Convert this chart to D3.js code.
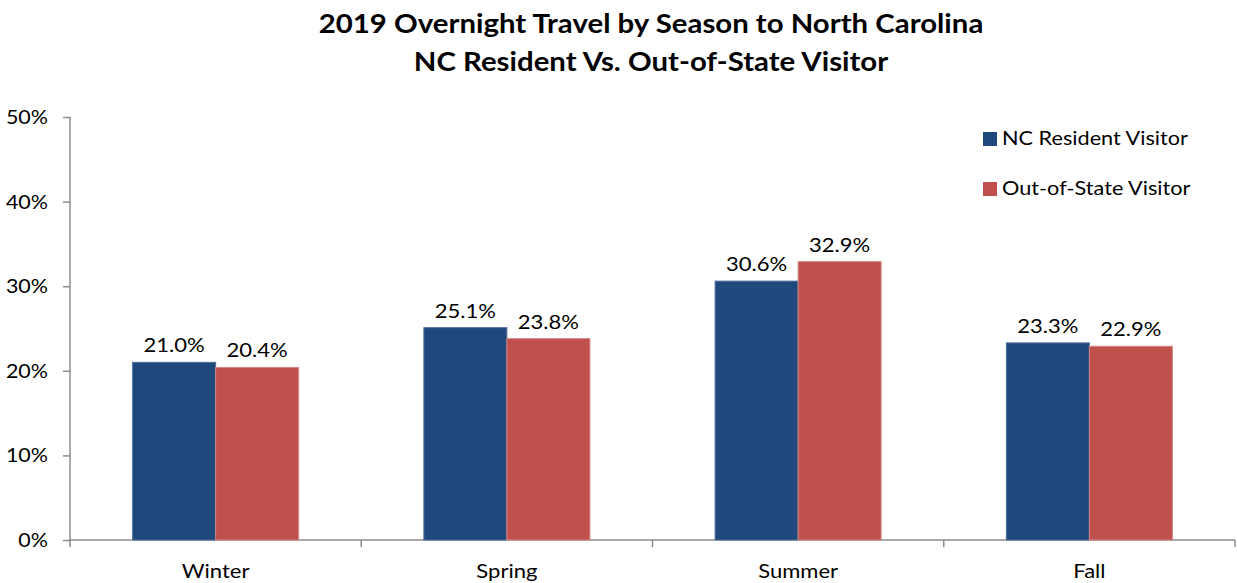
<!DOCTYPE html>
<html><head><meta charset="utf-8">
<script src="https://cdn.jsdelivr.net/npm/d3@7"></script>
<style>body{margin:0;background:#fff}svg{display:block;font-family:Lato,"Open Sans",sans-serif}</style>
</head><body><svg id="c" width="1237" height="583"></svg>
<script>
const categories = ["Winter","Spring","Summer","Fall"];
const seriesNames = ["NC Resident Visitor","Out-of-State Visitor"];
const ncResident = [21.0, 25.1, 30.6, 23.3];
const outOfState = [20.4, 23.8, 32.9, 22.9];
const yTicks = [0,10,20,30,40,50];
const titleLines = ["2019 Overnight Travel by Season to North Carolina","NC Resident Vs. Out-of-State Visitor"];
const colors = ["#1F497D","#C0504D"];
const strokes = ["#4F6F9A","#D48583"];

(function(){
const SX = 1.13;
const svg = d3.select("#c");
const mLeft = 70, mRight = 1235, mTop = 117, mBottom = 540;
const x0 = d3.scaleBand().domain(categories).range([mLeft,mRight]).paddingInner(0.43).paddingOuter(0.215);
const x1 = d3.scaleBand().domain(seriesNames).range([0,x0.bandwidth()]);
const y = d3.scaleLinear().domain([0,50]).range([mBottom,mTop]);

function txt(parent, x, yy, s, size, anchor, bold){
  return parent.append("text").attr("transform",`translate(${x},${yy}) scale(${SX},1)`)
    .attr("text-anchor",anchor).attr("font-size",size).attr("font-weight",bold?"bold":"normal")
    .attr("fill","#000").text(s);
}

// title
const t = svg.append("g");
titleLines.forEach((s,i)=> txt(t, 651, 33+i*38, s, 26, "middle", true));

// y axis
const ya = svg.append("g").attr("transform",`translate(${mLeft},0)`)
  .call(d3.axisLeft(y).tickValues(yTicks).tickSize(7).tickFormat(()=>""));
ya.select(".domain").attr("stroke","#8c8c8c").attr("stroke-width",1.5).attr("d",`M0,${mTop}V${mBottom}`);
ya.selectAll(".tick line").attr("stroke","#8c8c8c").attr("stroke-width",1.5);
ya.selectAll(".tick text").remove();
yTicks.forEach(v=> txt(svg, 48, y(v)+7, v+"%", 19, "end", false));

// x axis
const boundaries = categories.map(c=>x0(c)-x0.step()*x0.paddingInner()/2).concat([mRight]);
boundaries[0] = mLeft;
const xa = svg.append("g").attr("transform",`translate(0,${mBottom})`);
xa.append("line").attr("x1",mLeft).attr("x2",mRight).attr("stroke","#8c8c8c").attr("stroke-width",1.5);
xa.selectAll("line.tk").data(boundaries).join("line").attr("class","tk")
  .attr("x1",d=>d).attr("x2",d=>d).attr("y1",0).attr("y2",7).attr("stroke","#8c8c8c").attr("stroke-width",1.5);
categories.forEach(c=> txt(xa, x0(c)+x0.bandwidth()/2, 38, c, 19.5, "middle", false));

// bars
const data = categories.map((c,i)=>({cat:c, vals:[ncResident[i],outOfState[i]]}));
const g = svg.append("g");
data.forEach(d=>{
  d.vals.forEach((v,j)=>{
    const bx = x0(d.cat)+x1(seriesNames[j]);
    g.append("rect").attr("x",bx).attr("y",y(v)).attr("width",x1.bandwidth()).attr("height",y(0)-y(v))
     .attr("fill",colors[j]).attr("stroke",strokes[j]).attr("stroke-width",1);
    txt(g, bx+x1.bandwidth()/2, y(v)-10, v.toFixed(1)+"%", 19.5, "middle", false);
  });
});

// legend
const lg = svg.append("g");
seriesNames.forEach((s,i)=>{
  lg.append("rect").attr("x",983).attr("y",132+i*50).attr("width",14).attr("height",14).attr("fill",colors[i]);
  txt(lg, 1002, 145+i*50, s, 19.2, "start", false);
});
})();
</script></body></html>
